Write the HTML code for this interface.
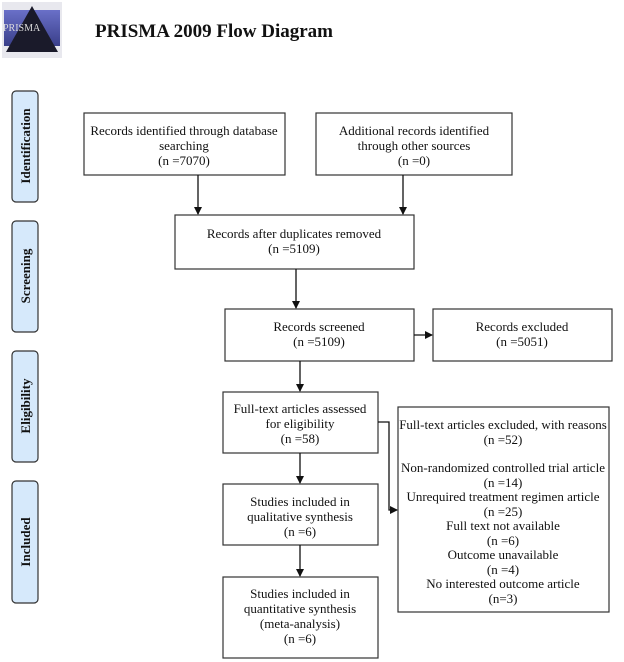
<!DOCTYPE html>
<html><head><style>body{margin:0;background:#fff}svg{display:block}text{font-family:"Liberation Serif",serif;fill:#111}</style></head>
<body>
<svg width="624" height="662" viewBox="0 0 624 662">
<defs>
<marker id="a" markerWidth="8" markerHeight="8" refX="7" refY="4" orient="auto" markerUnits="userSpaceOnUse"><path d="M0,0 L8,4 L0,8z" fill="#111"/></marker>
<linearGradient id="lg" x1="0" y1="0" x2="0" y2="1"><stop offset="0" stop-color="#6a70c8"/><stop offset="1" stop-color="#3a3f8a"/></linearGradient>
</defs>
<rect x="2" y="2" width="60" height="56" fill="#e8e8ee"/>
<rect x="4" y="10" width="56" height="36" fill="url(#lg)"/>
<path d="M32,6 L58,52 L6,52z" fill="#1a1a2a"/>
<text x="3" y="31" font-size="10" style="fill:#ddd">PRISMA</text>
<text x="95" y="37" font-size="19" font-weight="bold">PRISMA 2009 Flow Diagram</text>
<g fill="#d6e9fb" stroke="#333" stroke-width="1.2">
<rect x="12" y="91" width="26" height="111" rx="4"/>
<rect x="12" y="221" width="26" height="111" rx="4"/>
<rect x="12" y="351" width="26" height="111" rx="4"/>
<rect x="12" y="481" width="26" height="122" rx="4"/>
</g>
<g font-size="13" font-weight="bold" text-anchor="middle">
<text transform="translate(30,146) rotate(-90)">Identification</text>
<text transform="translate(30,276) rotate(-90)">Screening</text>
<text transform="translate(30,406) rotate(-90)">Eligibility</text>
<text transform="translate(30,542) rotate(-90)">Included</text>
</g>
<g fill="#fff" stroke="#333" stroke-width="1.2">
<rect x="84" y="113" width="201" height="62"/>
<rect x="316" y="113" width="196" height="62"/>
<rect x="175" y="215" width="239" height="54"/>
<rect x="225" y="309" width="189" height="52"/>
<rect x="433" y="309" width="179" height="52"/>
<rect x="223" y="392" width="155" height="61"/>
<rect x="398" y="407" width="211" height="205"/>
<rect x="223" y="484" width="155" height="61"/>
<rect x="223" y="577" width="155" height="81"/>
</g>
<g stroke="#111" stroke-width="1.3" fill="none">
<line x1="198" y1="175" x2="198" y2="214" marker-end="url(#a)"/>
<line x1="403" y1="175" x2="403" y2="214" marker-end="url(#a)"/>
<line x1="296" y1="269" x2="296" y2="308" marker-end="url(#a)"/>
<line x1="414" y1="335" x2="432" y2="335" marker-end="url(#a)"/>
<line x1="300" y1="361" x2="300" y2="391" marker-end="url(#a)"/>
<line x1="300" y1="453" x2="300" y2="483" marker-end="url(#a)"/>
<line x1="300" y1="545" x2="300" y2="576" marker-end="url(#a)"/>
<polyline points="378,422 389,422 389,510 397,510" marker-end="url(#a)"/>
</g>
<g font-size="13" text-anchor="middle">
<text x="184" y="135">Records identified through database</text><text x="184" y="150">searching</text><text x="184" y="165">(n =7070)</text>
<text x="414" y="135">Additional records identified</text><text x="414" y="150">through other sources</text><text x="414" y="165">(n =0)</text>
<text x="294" y="238">Records after duplicates removed</text><text x="294" y="253">(n =5109)</text>
<text x="319" y="331">Records screened</text><text x="319" y="346">(n =5109)</text>
<text x="522" y="331">Records excluded</text><text x="522" y="346">(n =5051)</text>
<text x="300" y="413">Full-text articles assessed</text><text x="300" y="428">for eligibility</text><text x="300" y="443">(n =58)</text>
<text x="300" y="506">Studies included in</text><text x="300" y="521">qualitative synthesis</text><text x="300" y="536">(n =6)</text>
<text x="300" y="598">Studies included in</text><text x="300" y="613">quantitative synthesis</text><text x="300" y="628">(meta-analysis)</text><text x="300" y="643">(n =6)</text>
<text x="503" y="429">Full-text articles excluded, with reasons</text><text x="503" y="444">(n =52)</text>
<text x="503" y="472">Non-randomized controlled trial article</text><text x="503" y="487">(n =14)</text>
<text x="503" y="501">Unrequired treatment regimen article</text><text x="503" y="516">(n =25)</text>
<text x="503" y="530">Full text not available</text><text x="503" y="545">(n =6)</text>
<text x="503" y="559">Outcome unavailable</text><text x="503" y="574">(n =4)</text>
<text x="503" y="588">No interested outcome article</text><text x="503" y="603">(n=3)</text>
</g>
</svg>
</body></html>
